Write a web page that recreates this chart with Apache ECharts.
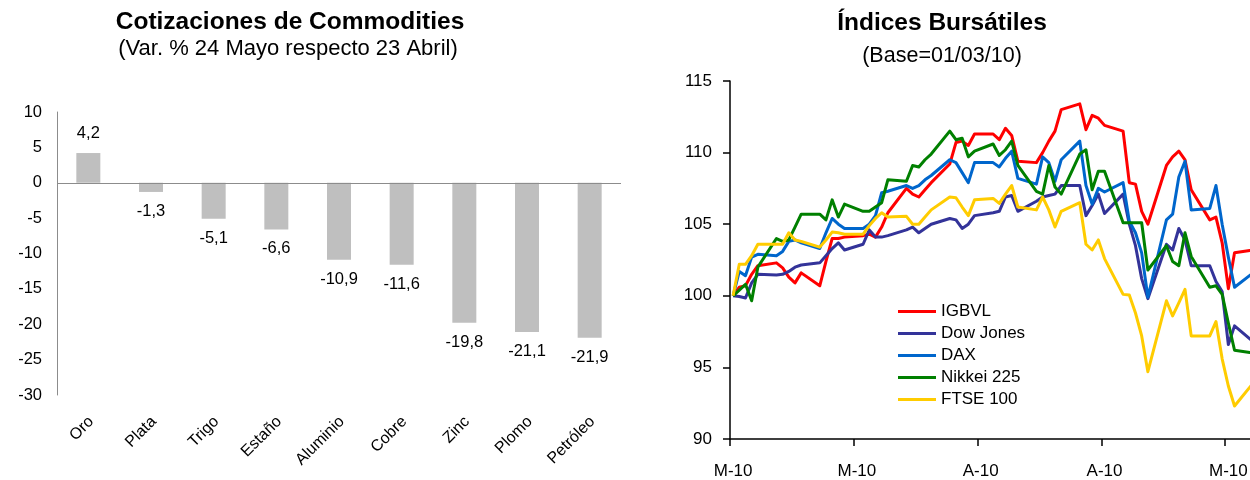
<!DOCTYPE html>
<html>
<head>
<meta charset="utf-8">
<script src="https://cdn.jsdelivr.net/npm/echarts@6/dist/echarts.min.js"></script>
<style>
  html, body { margin: 0; padding: 0; background: #fff; overflow: hidden; width: 1250px; height: 480px; }
  #chart { width: 1262px; height: 480px; }
</style>
</head>
<body>
<div id="chart"></div>
<script>
// ---- Commodity price change (%), 24 May vs 23 April ----
const commodities = ['Oro', 'Plata', 'Trigo', 'Estaño', 'Aluminio', 'Cobre', 'Zinc', 'Plomo', 'Petróleo'];
const commodityChange = [4.2, -1.3, -5.1, -6.6, -10.9, -11.6, -19.8, -21.1, -21.9];
const changeTicks = { min: -30, max: 10, step: 5 };

// ---- Stock indices, base 01/03/10 = 100 ----
// Weekday closes (Mon..Fri) week by week from Mon 1 Mar 2010, last value Mon 24 May 2010.
const igbvl = [
  100.0, 100.6, 100.7, 101.5, 102.1,
  102.3, 101.95, 101.3, 100.9, 101.6,
  100.7, 102.4, 104.0, 104.0, 104.1,
  104.2, 104.3, 104.1, 104.8, 105.8,
  107.5, 107.1, 106.9, 107.4, 107.9,
  109.2, 110.7, 110.8, 110.5, 111.3,
  111.3, 110.9, 111.7, 111.2, 109.4,
  109.3, 110.0, 110.8, 111.5, 113.0,
  113.4, 111.6, 112.6, 112.4, 111.9,
  111.5, 107.9, 107.8, 105.9, 105.0,
  109.1, 109.7, 110.1, 109.5, 107.4,
  105.3, 105.5, 103.7, 100.5, 103.0,
  103.2
];
const dowJones = [
  100.0, 99.95, 99.85, 100.9, 101.5,
  101.45, 101.5, 101.7, 102.0, 102.15,
  102.3, 102.8, 103.3, 103.7, 103.2,
  103.6, 104.6, 104.1, 104.1, 104.2,
  104.6, 104.8, 104.4, 104.7, 105.0,
  105.4, 105.3, 104.7, 105.0, 105.6,
  105.8, 105.9, 106.9, 107.0, 105.9,
  106.6, 106.9, 107.0, 107.1, 107.7,
  107.7, 105.6, 106.3, 107.1, 105.75,
  107.1, 105.0, 103.5, 101.2, 99.8,
  103.6, 103.2, 104.7, 103.9, 102.1,
  102.1, 101.0, 100.3, 96.6, 97.9,
  96.8
];
const dax = [
  100.0, 101.7, 101.4, 102.7, 102.9,
  102.8, 103.1, 103.8, 103.9, 103.7,
  103.3, 104.4, 105.4, 105.0, 104.7,
  104.7, 105.0, 105.6, 107.2, 107.3,
  107.7, 107.5, 107.7, 108.1, 108.4,
  109.5, 109.3, 108.6, 107.9, 109.3,
  109.3, 109.0, 109.6, 110.1, 108.2,
  107.8, 109.7, 109.3, 108.0, 109.5,
  110.8, 107.7, 106.4, 107.5, 107.25,
  107.9, 105.2, 104.4, 103.0, 99.9,
  105.3, 105.7, 108.3, 109.4, 106.0,
  106.1, 107.7, 105.0, 102.7, 100.6,
  101.6
];
const nikkei225 = [
  100.0, 100.4, 100.8, 99.65, 102.0,
  104.0, 103.8, 103.9, 104.8, 105.7,
  105.7, 105.3, 106.7, 105.5, 106.4,
  105.9, 105.9, 106.2, 106.5, 108.1,
  108.0, 109.1, 109.0, 109.5, 109.9,
  111.5, 110.9, 111.0, 109.7, 110.1,
  110.6, 109.8, 110.2, 110.8, 109.1,
  107.3, 107.1, 109.1, 107.6, 107.1,
  109.9, 110.2, 107.4, 108.7, 108.7,
  105.1, 105.1, 105.1, 105.1, 101.8,
  103.5, 102.4, 102.1, 104.4, 102.75,
  100.6, 100.7, 100.1, 98.1, 96.2,
  96.0
];
const ftse100 = [
  100.0, 102.2, 102.2, 102.8, 103.6,
  103.6, 103.6, 104.4, 103.9, 103.8,
  103.4, 103.9, 104.45, 104.4, 104.3,
  104.3, 104.9, 105.4, 105.8, 105.5,
  105.55, 105.0, 105.0, 105.5, 106.0,
  106.9, 106.85, 106.2, 105.6, 106.7,
  106.8, 106.45, 107.1, 107.7, 106.2,
  106.0, 106.9, 106.0, 104.8, 105.9,
  106.5, 103.6, 103.2, 103.9, 102.6,
  100.1, 100.05, 98.8, 97.2, 94.7,
  99.65, 98.6, 99.5, 100.45, 97.2,
  97.2, 98.2, 95.6, 93.7, 92.3,
  93.9
];
const indexNames = ['IGBVL', 'Dow Jones', 'DAX', 'Nikkei 225', 'FTSE 100'];
const indexColors = ['#FF0000', '#333399', '#0066CC', '#008000', '#FFCC00'];
const indexSeries = [igbvl, dowJones, dax, nikkei225, ftse100];
const dateTickLabels = ['M-10', 'M-10', 'A-10', 'A-10', 'M-10'];
const dateTickStep = 20;   // days between date ticks
const dayCount = 85;       // 1 Mar .. 24 May 2010

// calendar days for the date axis
const days = [];
for (let d = 0; d < dayCount; d++) {
  const dt = new Date(2010, 2, 1 + d);
  days.push(dt.getFullYear() + '-' + String(dt.getMonth() + 1).padStart(2, '0') + '-' + String(dt.getDate()).padStart(2, '0'));
}
// spread weekday closes over calendar days; weekends stay empty and are bridged
function onCalendar(weekdayValues) {
  const out = [];
  let k = 0;
  for (let d = 0; d < dayCount; d++) {
    out.push(d % 7 < 5 ? weekdayValues[k++] : null);
  }
  return out;
}

const SANS = "'Liberation Sans', Arial, sans-serif";
const fmtComma = v => v.toFixed(1).replace('.', ',');

const chart = echarts.init(document.getElementById('chart'), null, { renderer: 'canvas' });

chart.setOption({
  animation: false,
  backgroundColor: '#ffffff',
  graphic: [
    { type: 'text', x: 290, y: 22, style: { text: 'Cotizaciones de Commodities', fill: '#000', fontFamily: SANS, fontWeight: 'bold', fontSize: 24.5, align: 'center', verticalAlign: 'middle' } },
    { type: 'text', x: 288, y: 49, style: { text: '(Var. % 24 Mayo respecto 23 Abril)', fill: '#000', fontFamily: SANS, fontSize: 22, align: 'center', verticalAlign: 'middle' } },
    { type: 'text', x: 942, y: 23, style: { text: 'Índices Bursátiles', fill: '#000', fontFamily: SANS, fontWeight: 'bold', fontSize: 24.5, align: 'center', verticalAlign: 'middle' } },
    { type: 'text', x: 942, y: 56, style: { text: '(Base=01/03/10)', fill: '#000', fontFamily: SANS, fontSize: 21.5, align: 'center', verticalAlign: 'middle' } }
  ],
  legend: {
    orient: 'vertical',
    left: 893,
    top: 298,
    icon: 'rect',
    itemWidth: 38,
    itemHeight: 3,
    itemGap: 5,
    data: indexNames,
    textStyle: { fontFamily: SANS, fontSize: 17, color: '#000' }
  },
  grid: [
    { left: 57, top: 112, width: 564, height: 283 },
    { left: 730, top: 81, width: 526.2, height: 362 }
  ],
  xAxis: [
    {
      type: 'category', gridIndex: 0, data: commodities,
      axisLine: { show: false, onZero: false },
      axisTick: { show: false },
      axisLabel: { rotate: 45, margin: 27, fontFamily: SANS, fontSize: 16, color: '#000', interval: 0, padding: [0, -4, 0, 0] }
    },
    {
      type: 'category', gridIndex: 1, data: days, boundaryGap: true,
      axisLine: { show: true, onZero: false, lineStyle: { color: '#000', width: 1.5 } },
      axisTick: { show: true, interval: dateTickStep - 1, length: 7, lineStyle: { color: '#000', width: 1.5 } },
      axisLabel: {
        interval: dateTickStep - 1, margin: 24, fontFamily: SANS, fontSize: 17, color: '#000',
        formatter: (value, index) => dateTickLabels[Math.round(index / dateTickStep)] || ''
      },
      splitLine: { show: false }
    }
  ],
  yAxis: [
    {
      type: 'value', gridIndex: 0, min: changeTicks.min, max: changeTicks.max, interval: changeTicks.step,
      axisLine: { show: true, lineStyle: { color: '#8c8c8c', width: 1 } },
      axisTick: { show: false },
      splitLine: { show: false },
      axisLabel: { margin: 15, fontFamily: SANS, fontSize: 16.5, color: '#000' }
    },
    {
      type: 'value', gridIndex: 1, min: 90, max: 115, interval: 5,
      axisLine: { show: true, lineStyle: { color: '#000', width: 1.5 } },
      axisTick: { show: true, length: 7, lineStyle: { color: '#000', width: 1.5 } },
      splitLine: { show: false },
      axisLabel: { margin: 18, fontFamily: SANS, fontSize: 17, color: '#000' }
    }
  ],
  series: [
    {
      type: 'bar', xAxisIndex: 0, yAxisIndex: 0,
      barWidth: 24,
      itemStyle: { color: '#BFBFBF' },
      data: commodityChange.map(v => ({
        value: v,
        label: { position: v < 0 ? 'bottom' : 'top' }
      })),
      label: {
        show: true, distance: 11, fontFamily: SANS, fontSize: 16.5, color: '#000',
        formatter: p => fmtComma(p.value)
      },
      markLine: {
        silent: true, symbol: 'none', label: { show: false },
        lineStyle: { color: '#8c8c8c', width: 1, type: 'solid' },
        data: [{ yAxis: 0 }]
      }
    },
    ...indexSeries.map((vals, i) => ({
      name: indexNames[i],
      type: 'line', xAxisIndex: 1, yAxisIndex: 1,
      data: onCalendar(vals),
      connectNulls: true,
      showSymbol: false, symbol: 'none',
      color: indexColors[i],
      lineStyle: { color: indexColors[i], width: 3, join: 'round' },
      clip: false
    }))
  ]
});
</script>
</body>
</html>
